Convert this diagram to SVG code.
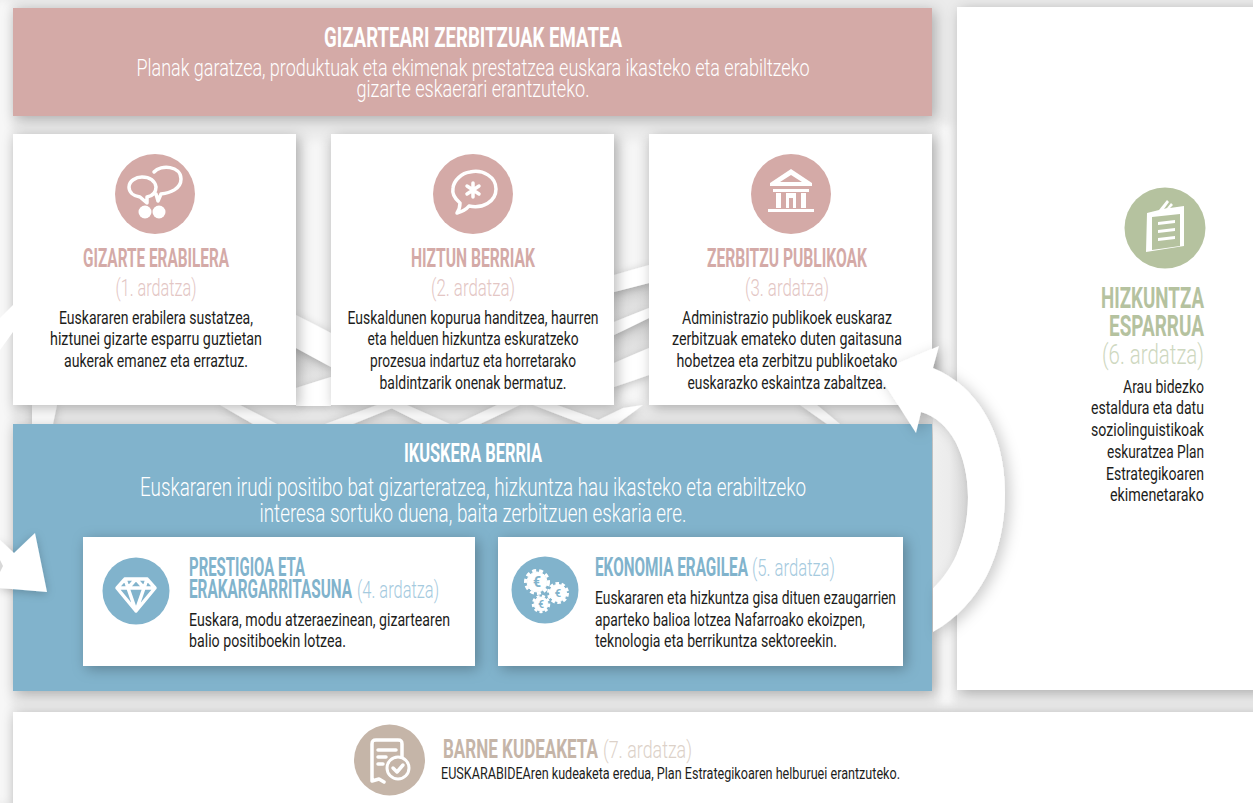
<svg xmlns="http://www.w3.org/2000/svg" width="1253" height="803" viewBox="0 0 1253 803">
<defs>
<style>
text{font-family:"Roboto","Liberation Sans",sans-serif}
.body{font-size:18px;fill:#1d1d1b;font-weight:400}
.mid{text-anchor:middle}
.end{text-anchor:end}
.h{font-size:25px;font-weight:700}
.a{font-size:23px;font-weight:300}
.pink{fill:#d4aaa7}.pinkl{fill:#e3c6c4}
.blue{fill:#81b3cc}.bluel{fill:#a5cade}
.green{fill:#b5c29f}.greenl{fill:#ced8bf}
.tan{fill:#c5b5a8}.tanl{fill:#dcd1c8}
.card{fill:#fff;filter:url(#sh)}
.w{fill:#fff}
.ic{fill:none;stroke:#fff;stroke-width:3.500;stroke-linejoin:round;stroke-linecap:round}
</style>
<filter id="sh" x="-20%" y="-20%" width="140%" height="140%"><feDropShadow dx="3" dy="3" stdDeviation="7" flood-color="#000" flood-opacity=".28"/></filter>
<filter id="sh2" x="-20%" y="-20%" width="140%" height="140%"><feDropShadow dx="0" dy="2" stdDeviation="5" flood-color="#000" flood-opacity=".22"/></filter>
<filter id="sh3" x="-30%" y="-20%" width="160%" height="140%"><feDropShadow dx="5" dy="3" stdDeviation="7" flood-color="#000" flood-opacity=".2"/></filter>
<filter id="soft" x="-50%" y="-10%" width="200%" height="120%"><feGaussianBlur stdDeviation="4"/></filter>
<linearGradient id="inner" x1="0" x2="1" y1="0" y2="0"><stop offset="0" stop-color="#f2f2f2"/><stop offset=".6" stop-color="#ececec"/><stop offset="1" stop-color="#d6d6d6"/></linearGradient>
<linearGradient id="shade" x1="0" x2="0" y1="0" y2="1"><stop offset="0" stop-color="#cfcfcf"/><stop offset="1" stop-color="#ededed"/></linearGradient>
</defs>
<rect width="1253" height="803" fill="#ebebeb"/>
<g id="backdrop">
<rect x="-6" y="0" width="16" height="803" fill="#f8f8f8" filter="url(#soft)"/>
<rect x="303" y="140" width="21" height="264" fill="#f6f6f6" filter="url(#soft)"/>
<rect x="621" y="140" width="21" height="264" fill="#f6f6f6" filter="url(#soft)"/>
<rect x="940" y="125" width="12" height="580" fill="#fafafa" filter="url(#soft)"/>
<path d="M296 348L331 367V377L296 388Z" fill="url(#shade)"/>
<path d="M614 292L649 283V308L614 322Z" fill="url(#shade)"/>
<path d="M614 335L649 318V348L614 363Z" fill="url(#shade)"/>
<g class="w" filter="url(#sh2)">
<path d="M296 315L331 333V367L296 348Z"/>
<path d="M296 388L331 377V406H296Z"/>
<path d="M614 275L649 265V283L614 292Z"/>
<path d="M614 322L649 308V318L614 335Z"/>
<path d="M614 363L649 348V375L614 387Z"/>
<path d="M32 405H57L53 424H32Z"/>
<path d="M220 405H240L277 424H253Z"/>
<path d="M325 424L377 405H400L353 424Z"/>
<path d="M385 405H407L450 424H423Z"/>
<path d="M457 424L497 405H520L480 424Z"/>
<path d="M533 405H557L610 424H583Z"/>
<path d="M590 424L623 408L643 405L617 424Z"/>
<path d="M800 405H817L840 424H827Z"/>
</g>
</g>
<g id="top"><rect x="13" y="8" width="919" height="108" fill="#d4aaa7" filter="url(#sh)"/>
<text class="mid" font-size="28" font-weight="700" fill="#fff" x="473" y="47" textLength="298" lengthAdjust="spacingAndGlyphs">GIZARTEARI ZERBITZUAK EMATEA</text>
<text class="mid" font-size="24" font-weight="300" fill="#fff"><tspan x="473" y="76" textLength="673" lengthAdjust="spacingAndGlyphs">Planak garatzea, produktuak eta ekimenak prestatzea euskara ikasteko eta erabiltzeko</tspan><tspan x="473" y="97" textLength="233" lengthAdjust="spacingAndGlyphs">gizarte eskaerari erantzuteko.</tspan></text>
</g>
<g id="gizarte-erabilera"><rect class="card" x="13" y="134" width="283" height="271"/><circle cx="155" cy="194" r="40" class="pink"/>
<path class="ic" d="M140 197c-7-1-11-5-11-10 0-6 7-10 13-10 8 0 13 4 14 10 0 6-4 9-9 10l0 6-7-6zM154 172c7-8 27-6 27 7 0 10-11 14-20 15l-3 7-2-7"/><circle cx="145" cy="212" r="6.500" fill="#fff"/><circle cx="159" cy="212" r="6.500" fill="#fff"/>
<text class="mid h pink" x="156" y="267" textLength="146" lengthAdjust="spacingAndGlyphs">GIZARTE ERABILERA</text>
<text class="mid a pinkl" x="156" y="296" textLength="81" lengthAdjust="spacingAndGlyphs">(1. ardatza)</text>
<text class="mid body"><tspan x="156" y="324" textLength="194" lengthAdjust="spacingAndGlyphs">Euskararen erabilera sustatzea,</tspan><tspan x="156" y="345" textLength="212" lengthAdjust="spacingAndGlyphs">hiztunei gizarte esparru guztietan</tspan><tspan x="156" y="367" textLength="184" lengthAdjust="spacingAndGlyphs">aukerak emanez eta erraztuz.</tspan></text></g>
<g id="hiztun-berriak"><rect class="card" x="331" y="134" width="283" height="271"/><circle cx="473" cy="194" r="40" class="pink"/>
<path class="ic" d="M470 172c13-3 26 5 26 17 0 13-14 20-27 17-4 5-8 6-12 7 2-3 3-6 3-10-6-5-8-10-7-15 1-8 9-15 17-16z"/><path class="ic" stroke-width="3" d="M473 183v14M467 186l12 8M479 186l-12 8"/>
<text class="mid h pink" x="473" y="267" textLength="124" lengthAdjust="spacingAndGlyphs">HIZTUN BERRIAK</text>
<text class="mid a pinkl" x="473" y="296" textLength="84" lengthAdjust="spacingAndGlyphs">(2. ardatza)</text>
<text class="mid body"><tspan x="473" y="324" textLength="251" lengthAdjust="spacingAndGlyphs">Euskaldunen kopurua handitzea, haurren</tspan><tspan x="473" y="345" textLength="211" lengthAdjust="spacingAndGlyphs">eta helduen hizkuntza eskuratzeko</tspan><tspan x="473" y="367" textLength="206" lengthAdjust="spacingAndGlyphs">prozesua indartuz eta horretarako</tspan><tspan x="473" y="389" textLength="187" lengthAdjust="spacingAndGlyphs">baldintzarik onenak bermatuz.</tspan></text></g>
<g id="zerbitzu-publikoak"><rect class="card" x="649" y="134" width="283" height="271"/><circle cx="791" cy="194" r="40" class="pink"/>
<path d="M791 169l21 14v3h-42v-3zM791 175l-11 7h22zM773 189h36v3h-36zM776 193h5v15h-5zM786 193h10v15h-3v-10h-4v10h-3zM801 193h5v15h-5zM768 209h46v3h-46z" fill="#fff" fill-rule="evenodd"/>
<text class="mid h pink" x="787" y="267" textLength="160" lengthAdjust="spacingAndGlyphs">ZERBITZU PUBLIKOAK</text>
<text class="mid a pinkl" x="787" y="296" textLength="84" lengthAdjust="spacingAndGlyphs">(3. ardatza)</text></g>
<g id="ikuskera-berria"><rect x="13" y="424" width="919" height="267" fill="#81b3cc" filter="url(#sh)"/>
<text class="mid h" fill="#fff" x="473" y="462" textLength="138" lengthAdjust="spacingAndGlyphs">IKUSKERA BERRIA</text>
<text class="mid" font-size="25" font-weight="300" fill="#fff"><tspan x="473" y="496" textLength="666" lengthAdjust="spacingAndGlyphs">Euskararen irudi positibo bat gizarteratzea, hizkuntza hau ikasteko eta erabiltzeko</tspan><tspan x="473" y="522" textLength="427" lengthAdjust="spacingAndGlyphs">interesa sortuko duena, baita zerbitzuen eskaria ere.</tspan></text></g>
<g id="prestigioa"><rect class="card" x="83" y="537" width="392" height="129"/><circle cx="136" cy="591" r="33.500" class="blue"/>
<path class="ic" stroke-width="2.500" d="M125 579h22l8 9-19 23-19-23zM117 588h38M128 588l8 23 8-23M125 579l3 9 8-9 8 9 3-9"/>
<text class="h blue" transform="translate(189 576) scale(.6 1)" textLength="193.300" lengthAdjust="spacingAndGlyphs">PRESTIGIOA ETA</text>
<text class="h blue" transform="translate(189 598) scale(.64 1)" textLength="254.700" lengthAdjust="spacingAndGlyphs">ERAKARGARRITASUNA</text>
<text class="a bluel" transform="translate(357 598) scale(.68 1)" textLength="120.600" lengthAdjust="spacingAndGlyphs">(4. ardatza)</text>
<text class="body"><tspan x="189" y="626" textLength="261" lengthAdjust="spacingAndGlyphs">Euskara, modu atzeraezinean, gizartearen</tspan><tspan x="189" y="647" textLength="157" lengthAdjust="spacingAndGlyphs">balio positiboekin lotzea.</tspan></text></g>
<g id="ekonomia"><rect class="card" x="498" y="537" width="405" height="129"/><circle cx="545" cy="590" r="33.500" class="blue"/>
<g fill="#fff" stroke="#fff"><circle cx="537" cy="582" r="10"/><circle cx="537" cy="582" r="11.500" fill="none" stroke-width="3" stroke-dasharray="4 3"/><circle cx="558" cy="593" r="8.500"/><circle cx="558" cy="593" r="9.500" fill="none" stroke-width="3" stroke-dasharray="3.500 2.500"/><circle cx="541" cy="604" r="7"/><circle cx="541" cy="604" r="8" fill="none" stroke-width="2.500" stroke-dasharray="3 2.500"/></g>
<text class="mid blue" font-weight="700"><tspan x="537" y="587" font-size="14">€</tspan><tspan x="558" y="597" font-size="11">€</tspan><tspan x="541" y="608" font-size="10">€</tspan></text>
<text class="h blue" transform="translate(595 576) scale(.6 1)" textLength="255" lengthAdjust="spacingAndGlyphs">EKONOMIA ERAGILEA</text>
<text class="a bluel" transform="translate(752 576) scale(.68 1)" textLength="122" lengthAdjust="spacingAndGlyphs">(5. ardatza)</text>
<text class="body"><tspan x="595" y="604" textLength="301" lengthAdjust="spacingAndGlyphs">Euskararen eta hizkuntza gisa dituen ezaugarrien</tspan><tspan x="595" y="626" textLength="270" lengthAdjust="spacingAndGlyphs">aparteko balioa lotzea Nafarroako ekoizpen,</tspan><tspan x="595" y="647" textLength="242" lengthAdjust="spacingAndGlyphs">teknologia eta berrikuntza sektoreekin.</tspan></text></g>
<g id="hizkuntza-esparrua"><rect class="card" x="957" y="7" width="310" height="683"/><circle cx="1165" cy="228" r="40.500" class="green"/>
<path d="M1147 213l12-3 8-10 2 2-5 7 3-1 4-5 2 2-3 3 14-2v40l-38 6z" fill="#fff"/><path d="M1152 217l28-3v32l-28 4z" fill="#b5c29f"/><path d="M1158 222l17-2v3l-17 2zM1158 230l17-2v3l-17 2zM1158 238l17-2v3l-17 2z" fill="#fff"/>
<text class="end green" font-size="30" font-weight="700" transform="translate(1204 308) scale(.62 1)" textLength="166.100" lengthAdjust="spacingAndGlyphs">HIZKUNTZA</text>
<text class="end green" font-size="30" font-weight="700" transform="translate(1204 336) scale(.64 1)" textLength="148.400" lengthAdjust="spacingAndGlyphs">ESPARRUA</text>
<text class="end greenl" font-size="28" font-weight="300" transform="translate(1204 364) scale(.7 1)" textLength="145.700" lengthAdjust="spacingAndGlyphs">(6. ardatza)</text>
<text class="end body"><tspan x="1204" y="393" textLength="81" lengthAdjust="spacingAndGlyphs">Arau bidezko</tspan><tspan x="1204" y="414" textLength="113" lengthAdjust="spacingAndGlyphs">estaldura eta datu</tspan><tspan x="1204" y="436" textLength="113" lengthAdjust="spacingAndGlyphs">soziolinguistikoak</tspan><tspan x="1204" y="458" textLength="97" lengthAdjust="spacingAndGlyphs">eskuratzea Plan</tspan><tspan x="1204" y="480" textLength="98" lengthAdjust="spacingAndGlyphs">Estrategikoaren</tspan><tspan x="1204" y="501" textLength="94" lengthAdjust="spacingAndGlyphs">ekimenetarako</tspan></text></g>
<g id="barne-kudeaketa"><rect class="card" x="13" y="712" width="1260" height="110"/><circle cx="389.500" cy="760" r="35.500" class="tan"/>
<path class="ic" stroke-width="3" d="M384 782l-5-3-7 2v-37c0-3 1-4 4-4h22c3 0 4 1 4 4v15M378 750h18M378 757h8M378 764h5"/><circle cx="398" cy="768" r="11" fill="#c5b5a8" stroke="#fff" stroke-width="3"/><path class="ic" d="M393 768l4 4 6-7"/>
<text class="h tan" font-size="26" transform="translate(443 758) scale(.66 1)" textLength="234.800" lengthAdjust="spacingAndGlyphs">BARNE KUDEAKETA</text>
<text class="a tanl" transform="translate(603 758) scale(.72 1)" textLength="123.600" lengthAdjust="spacingAndGlyphs">(7. ardatza)</text>
<text x="441" y="779" font-size="16" fill="#1d1d1b" textLength="459" lengthAdjust="spacingAndGlyphs">EUSKARABIDEAren kudeaketa eredua, Plan Estrategikoaren helburuei erantzuteko.</text></g>
<g id="connectors">
<path d="M921 412C950 420 968 455 968 497C968 535 955 568 933 588V412Z" fill="url(#inner)"/>
<path d="M939 346L877 372L916 433L921 412C950 420 968 455 968 497C968 535 955 568 933 588V632C980 605 1005 555 1005 493C1005 430 975 385 933 368Z" fill="#fff" filter="url(#sh3)"/>
<path d="M0 318L13 305V332L0 350Z" fill="#fff"/>
<path d="M0 540L14 553L35 533L47 592L0 588Z" fill="#fff" filter="url(#sh2)"/>
<path d="M0 560L3 566L0 572Z" fill="#d8d8d8"/>
</g>
<g id="zerbitzu-publikoak-text">
<text class="mid body"><tspan x="787" y="324" textLength="210" lengthAdjust="spacingAndGlyphs">Administrazio publikoek euskaraz</tspan><tspan x="787" y="345" textLength="230" lengthAdjust="spacingAndGlyphs">zerbitzuak emateko duten gaitasuna</tspan><tspan x="787" y="367" textLength="221" lengthAdjust="spacingAndGlyphs">hobetzea eta zerbitzu publikoetako</tspan><tspan x="787" y="389" textLength="199" lengthAdjust="spacingAndGlyphs">euskarazko eskaintza zabaltzea.</tspan></text>
</g>
</svg>
